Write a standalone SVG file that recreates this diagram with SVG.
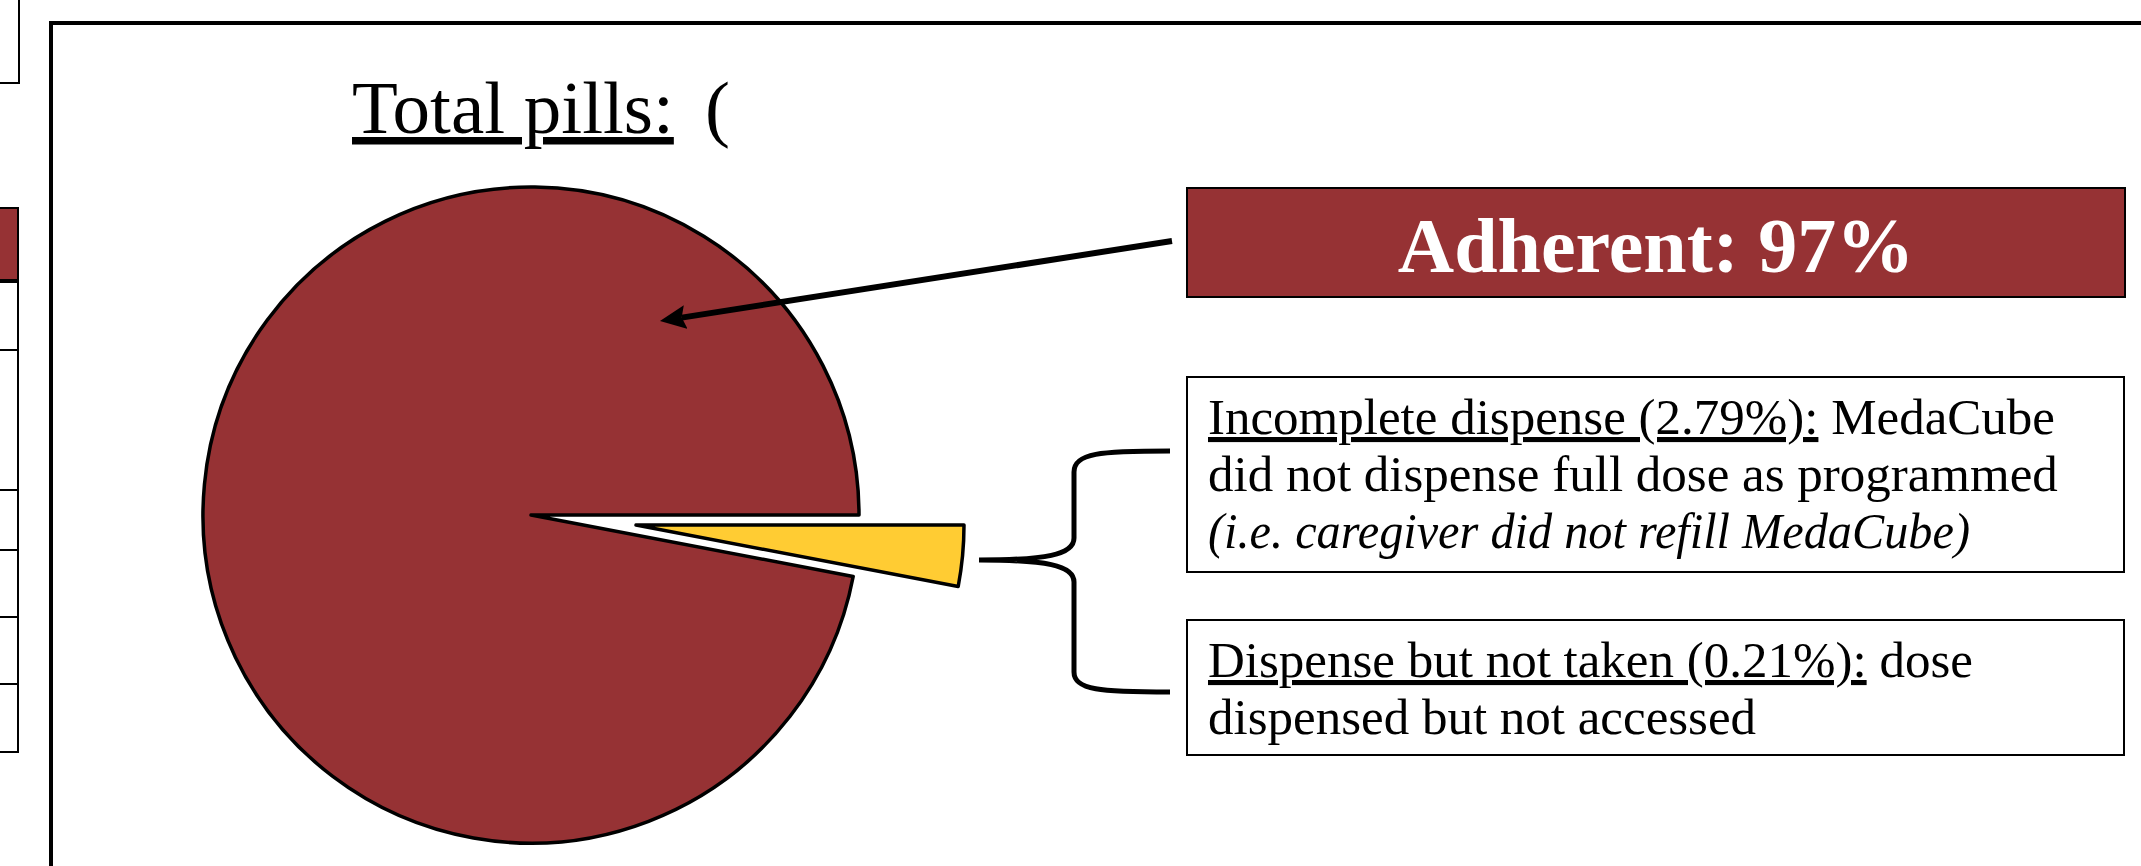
<svg xmlns="http://www.w3.org/2000/svg" width="2141" height="866" viewBox="0 0 2141 866">
<style>
.serif{font-family:"Liberation Serif","DejaVu Serif",serif;}
.maroon{fill:#963234;}
.box{fill:#ffffff;stroke:#000;stroke-width:2;}
.lbl{font-size:51px;fill:#000;}
.u{text-decoration:underline;}
.conn{fill:none;stroke:#000;}
</style>
<defs>
<marker id="ah" markerUnits="userSpaceOnUse" markerWidth="26" markerHeight="24" viewBox="0 0 26 24" refX="4" refY="12" orient="auto">
<path d="M0,0 L26,12 L0,24 L4,12 Z" fill="#000"/>
</marker>
</defs>
<rect width="2141" height="866" fill="#ffffff"/>
<g id="left-partial">
<rect x="-10" y="-10" width="29" height="93" fill="#fff" stroke="#000" stroke-width="2"/>
<rect x="-10" y="208" width="28" height="73" class="maroon" stroke="#000" stroke-width="2"/>
<rect x="-10" y="281" width="28" height="471" fill="#fff" stroke="#000" stroke-width="2"/>
<line x1="-10" y1="281" x2="19" y2="281" stroke="#000" stroke-width="4"/>
<g stroke="#000" stroke-width="2">
<line x1="-10" y1="350" x2="18" y2="350"/>
<line x1="-10" y1="490" x2="18" y2="490"/>
<line x1="-10" y1="550" x2="18" y2="550"/>
<line x1="-10" y1="617" x2="18" y2="617"/>
<line x1="-10" y1="684" x2="18" y2="684"/>
</g>
</g>
<rect id="frame" x="51" y="23" width="2200" height="900" fill="none" stroke="#000" stroke-width="4"/>
<g id="title">
<text x="352" y="133" class="serif" font-size="75" fill="#000"><tspan class="u">Total pills:</tspan><tspan x="705">(</tspan></text>
</g>
<g id="pie">
<path d="M531,515 L859,515 A328,328 0 1,0 853.2,576.5 Z" class="maroon" stroke="#000" stroke-width="3.5" stroke-linejoin="round"/>
<path d="M636,525 L964,525 A328,328 0 0,1 958.2,586.5 Z" fill="#ffcc33" stroke="#000" stroke-width="3.5" stroke-linejoin="round"/>
</g>
<g id="adherent">
<rect x="1187" y="188" width="938" height="109" class="maroon" stroke="#000" stroke-width="2"/>
<text x="1656" y="272" class="serif" font-size="78" font-weight="bold" fill="#ffffff" text-anchor="middle">Adherent: 97%</text>
</g>
<g id="incomplete">
<rect x="1187" y="377" width="937" height="195" class="box"/>
<text class="serif lbl" x="1208" y="434"><tspan class="u">Incomplete dispense (2.79%):</tspan> MedaCube</text>
<text class="serif lbl" x="1208" y="491">did not dispense full dose as programmed</text>
<text class="serif lbl" x="1208" y="548" font-style="italic" textLength="762" lengthAdjust="spacingAndGlyphs">(i.e. caregiver did not refill MedaCube)</text>
</g>
<g id="not-taken">
<rect x="1187" y="620" width="937" height="135" class="box"/>
<text class="serif lbl" x="1208" y="677"><tspan class="u">Dispense but not taken (0.21%):</tspan> dose</text>
<text class="serif lbl" x="1208" y="734">dispensed but not accessed</text>
</g>
<g id="connectors">
<line x1="1172" y1="241" x2="681.7" y2="317.6" class="conn" stroke-width="6" marker-end="url(#ah)"/>
<path d="M1170,451 C1100,451 1074,453 1074,472 L1074,538 C1074,555 1045,560 979,560 C1045,560 1074,565 1074,582 L1074,672 C1074,690 1100,692 1170,692" class="conn" stroke-width="5"/>
</g>
</svg>
